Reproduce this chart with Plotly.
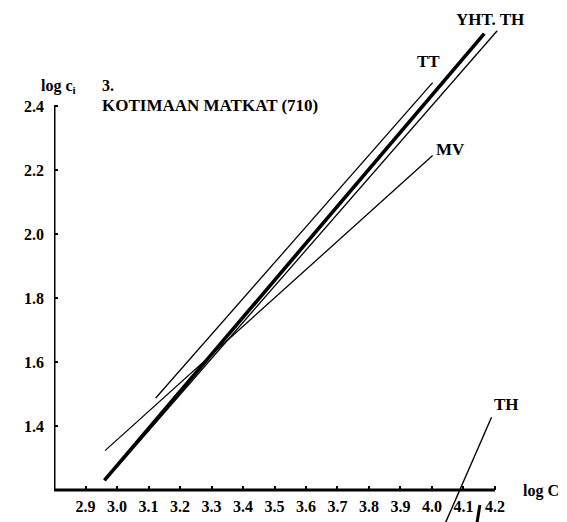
import plotly.graph_objects as go

# regression lines, log C vs log c_i (end points)
yht_x = [2.96, 4.166]
yht_y = [1.23, 2.626]
th_top_x = [3.00, 4.207]
th_top_y = [1.272, 2.635]
tt_x = [3.123, 4.002]
tt_y = [1.4875, 2.473]
mv_x = [2.962, 4.002]
mv_y = [1.323, 2.245]
th_x = [4.035, 4.189]
th_y = [1.08, 1.427]
stub_x = [4.14, 4.152]
stub_y = [1.08, 1.153]

x_ticks = [2.9, 3.0, 3.1, 3.2, 3.3, 3.4, 3.5, 3.6, 3.7, 3.8, 3.9, 4.0, 4.1, 4.2]
y_ticks = [1.4, 1.6, 1.8, 2.0, 2.2, 2.4]

FONT = "serif"
# the page body adds an 8px offset, so the ranges are shifted to compensate
Y_MIN, Y_MAX = 1.075, 2.706

fig = go.Figure()

for xs, ys, w in [(yht_x, yht_y, 3.6), (th_top_x, th_top_y, 1.3), (tt_x, tt_y, 1.3),
                  (mv_x, mv_y, 1.3), (th_x, th_y, 1.4), (stub_x, stub_y, 3.0)]:
    fig.add_trace(go.Scatter(x=xs, y=ys, mode="lines", line=dict(color="black", width=w),
                             showlegend=False, hoverinfo="skip"))

# axes drawn by hand so they stop at 4.2 and 2.4
fig.add_shape(type="line", x0=2.8, y0=1.2, x1=4.2, y1=1.2, line=dict(color="black", width=3))
fig.add_shape(type="line", x0=2.8, y0=1.2, x1=2.8, y1=2.4, line=dict(color="black", width=3))

fig.update_xaxes(range=[2.8, 4.454], tickvals=x_ticks, ticktext=[f"<b>{v:.1f}</b>" for v in x_ticks],
                 anchor="free", position=(1.2 - Y_MIN) / (Y_MAX - Y_MIN),
                 ticks="inside", ticklen=4, tickwidth=2, tickcolor="black",
                 showgrid=False, zeroline=False, showline=False, ticklabelstandoff=5,
                 tickfont=dict(family=FONT, size=16, color="black"))
fig.update_yaxes(range=[Y_MIN, Y_MAX], tickvals=y_ticks, ticktext=[f"<b>{v:.1f}</b>" for v in y_ticks],
                 ticks="inside", ticklen=4, tickwidth=2, tickcolor="black",
                 showgrid=False, zeroline=False, showline=False, ticklabelstandoff=9,
                 tickfont=dict(family=FONT, size=16, color="black"))

labels = [
    ("YHT. TH", 4.184, Y_MAX, "center", "top", 17),
    ("TT", 3.99, 2.5375, "center", "middle", 17),
    ("MV", 4.06, 2.2625, "center", "middle", 17),
    ("TH", 4.235, 1.466, "center", "middle", 17),
    ("log C", 4.283, 1.197, "left", "middle", 16),
    ("log c<sub>i</sub>", 2.876, 2.462, "right", "middle", 16),
    ("3.", 2.946, 2.465, "left", "middle", 16),
    ("KOTIMAAN MATKAT (710)", 2.946, 2.40, "left", "middle", 17),
]
for text, x, y, xanchor, yanchor, size in labels:
    fig.add_annotation(x=x, y=y, text=f"<b>{text}</b>", showarrow=False, xanchor=xanchor,
                       yanchor=yanchor, font=dict(family=FONT, size=size, color="black"))

fig.update_layout(width=567, height=522, margin=dict(l=46, r=0, t=0, b=0),
                  plot_bgcolor="white", paper_bgcolor="white")

fig.write_html("out.html")
